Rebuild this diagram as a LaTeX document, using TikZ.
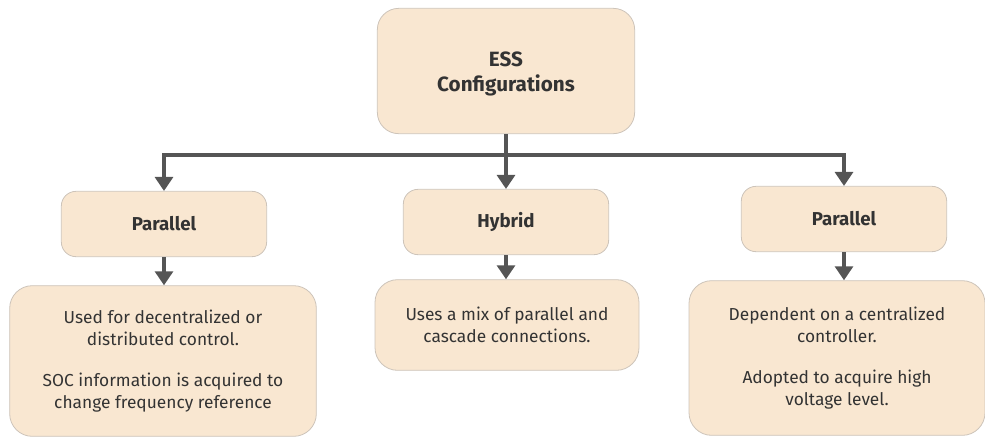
\documentclass[tikz,border=0pt]{standalone}
\usepackage{fontspec}
\setmainfont{Fira Sans}
\usepackage{tikz}
\usetikzlibrary{arrows.meta}

\definecolor{boxfill}{RGB}{249,231,209}
\definecolor{boxline}{RGB}{205,196,186}
\definecolor{ink}{RGB}{51,51,51}
\definecolor{wire}{RGB}{85,85,85}

\tikzset{
  box/.style={draw=boxline, line width=0.6pt, fill=boxfill, rounded corners=11pt,
              text=ink, align=center, inner sep=0pt},
  head/.style={box, font=\fontsize{14}{17}\selectfont\bfseries},
  info/.style={box, rounded corners=17pt, font=\fontsize{13}{16.5}\selectfont},
  link/.style={draw=wire, line width=2.4pt, -{Triangle[length=10.5pt, width=13.5pt]}}
}

\begin{document}
\begin{tikzpicture}[x=0.75pt, y=-0.75pt]
  \useasboundingbox (0,0) rectangle (985,437);
  % root
  \node[box, rounded corners=16pt, minimum width=193pt, minimum height=94pt,
        font=\fontsize{15.5}{19}\selectfont\bfseries] (ess) at (506,71) {\\[-4pt]ESS\\Configurations};
  \coordinate (bus) at (506,155);
  % second level
  \node[head, minimum width=154pt, minimum height=49pt] (parL) at (164,224) {Parallel};
  \node[head, minimum width=154pt, minimum height=49pt] (hyb) at (506,222) {Hybrid};
  \node[head, minimum width=154pt, minimum height=49pt] (parR) at (844,219) {Parallel};
  % descriptions
  \node[info, minimum width=230pt, minimum height=113pt] (infoL) at (163,361)
    {Used for decentralized or\\distributed control.\\[14pt]SOC information is acquired to\\change frequency reference};
  \node[info, minimum width=198pt, minimum height=68pt] (infoM) at (507,325)
    {Uses a mix of parallel and\\cascade connections.};
  \node[info, minimum width=222pt, minimum height=116pt] (infoR) at (837,358)
    {Dependent on a centralized\\controller.\\[14pt]Adopted to acquire high\\voltage level.};
  % connectors
  \draw[link] (ess.south) -- (hyb.north);
  \draw[link] (bus) -| (parL.north);
  \draw[link] (bus) -| (parR.north);
  \draw[link] (parL.south) -- (parL.south |- infoL.north);
  \draw[link] (hyb.south) -- (hyb.south |- infoM.north);
  \draw[link] (parR.south) -- (parR.south |- infoR.north);
\end{tikzpicture}
\end{document}
